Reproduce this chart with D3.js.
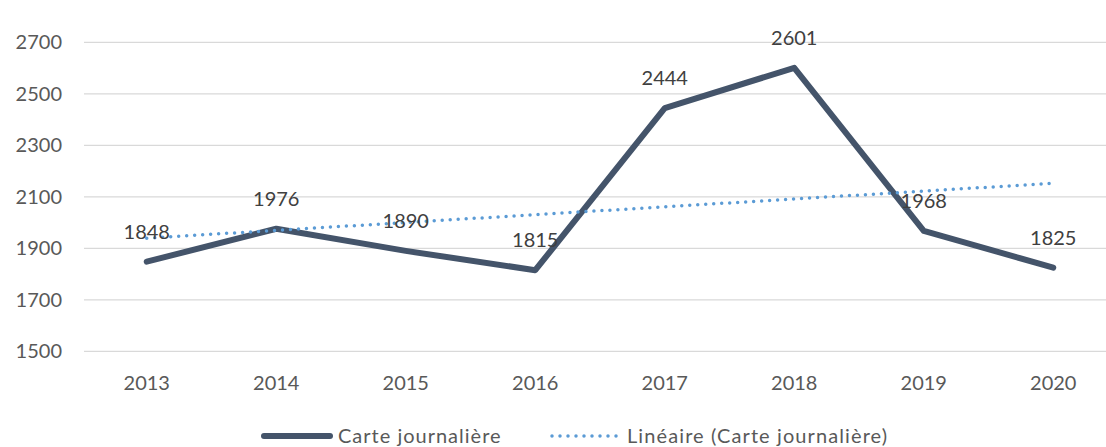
<!DOCTYPE html>
<html>
<head>
<meta charset="utf-8">
<script src="https://cdn.jsdelivr.net/npm/d3@7/dist/d3.min.js"></script>
<style>
  body { margin: 0; background: #fff; }
  svg { display: block; font-family: Lato, "Open Sans", sans-serif; }
</style>
</head>
<body>
<svg id="chart" width="1106" height="447"></svg>
<script>
// chart data
var years = ["2013", "2014", "2015", "2016", "2017", "2018", "2019", "2020"];
var carteJournaliere = [1848, 1976, 1890, 1815, 2444, 2601, 1968, 1825];
var yTicks = [1500, 1700, 1900, 2100, 2300, 2500, 2700];
var legendLabels = ["Carte journalière", "Linéaire (Carte journalière)"];

var svg = d3.select("#chart");

var x = d3.scaleBand().domain(years).range([82, 1118]);
var y = d3.scaleLinear().domain([1500, 2700]).range([351.3, 42.3]);
var cx = function (d) { return x(d) + x.bandwidth() / 2; };

// gridlines
svg.append("g")
  .selectAll("line")
  .data(yTicks)
  .join("line")
  .attr("x1", 84)
  .attr("x2", 1118)
  .attr("y1", function (d) { return y(d); })
  .attr("y2", function (d) { return y(d); })
  .attr("stroke", "#d9d9d9")
  .attr("stroke-width", 1.3);

// y axis labels
var yAxis = svg.append("g")
  .attr("transform", "translate(62,0)")
  .call(d3.axisLeft(y).tickValues(yTicks).tickSize(0).tickPadding(0).tickFormat(d3.format("d")));
yAxis.select(".domain").remove();
yAxis.selectAll("text")
  .attr("font-size", 20)
  .attr("font-family", "Lato, sans-serif")
  .attr("fill", "#595959");

// x axis labels
var xAxis = svg.append("g")
  .attr("transform", "translate(0,376)")
  .call(d3.axisBottom(x).tickSize(0).tickPadding(0));
xAxis.select(".domain").remove();
xAxis.selectAll("text")
  .attr("font-size", 20)
  .attr("font-family", "Lato, sans-serif")
  .attr("fill", "#595959");

// linear trend (least squares over the series, like Excel)
var n = carteJournaliere.length;
var mx = d3.mean(carteJournaliere, function (d, i) { return i; });
var my = d3.mean(carteJournaliere);
var sxy = d3.sum(carteJournaliere, function (d, i) { return (i - mx) * (d - my); });
var sxx = d3.sum(carteJournaliere, function (d, i) { return (i - mx) * (i - mx); });
var slope = sxy / sxx;
var trend = [0, n - 1].map(function (i) { return { year: years[i], v: my + slope * (i - mx) }; });

var line = d3.line()
  .x(function (d) { return cx(d.year); })
  .y(function (d) { return y(d.v); });

var series = years.map(function (yr, i) { return { year: yr, v: carteJournaliere[i] }; });

// main line
svg.append("path")
  .datum(series)
  .attr("d", line)
  .attr("fill", "none")
  .attr("stroke", "#44546a")
  .attr("stroke-width", 6)
  .attr("stroke-linejoin", "round")
  .attr("stroke-linecap", "round");

// trend line on top
svg.append("path")
  .datum(trend)
  .attr("d", line)
  .attr("fill", "none")
  .attr("stroke", "#5b9bd5")
  .attr("stroke-width", 3.5)
  .attr("stroke-linecap", "round")
  .attr("stroke-dasharray", "0 8");

// data labels
svg.append("g")
  .selectAll("text")
  .data(series)
  .join("text")
  .attr("x", function (d) { return cx(d.year); })
  .attr("y", function (d) { return y(d.v) - 23; })
  .attr("text-anchor", "middle")
  .attr("font-size", 20)
  .attr("fill", "#404040")
  .text(function (d) { return d.v; });

// legend
var legend = svg.append("g");
legend.append("line")
  .attr("x1", 264).attr("x2", 330)
  .attr("y1", 436).attr("y2", 436)
  .attr("stroke", "#44546a")
  .attr("stroke-width", 6)
  .attr("stroke-linecap", "round");
legend.append("text")
  .attr("x", 338).attr("y", 443)
  .attr("font-size", 20)
  .attr("letter-spacing", 1)
  .attr("fill", "#595959")
  .text(legendLabels[0]);
legend.append("line")
  .attr("x1", 552).attr("x2", 620)
  .attr("y1", 436).attr("y2", 436)
  .attr("stroke", "#5b9bd5")
  .attr("stroke-width", 3.5)
  .attr("stroke-linecap", "round")
  .attr("stroke-dasharray", "0 8");
legend.append("text")
  .attr("x", 627).attr("y", 443)
  .attr("font-size", 20)
  .attr("letter-spacing", 1.1)
  .attr("fill", "#595959")
  .text(legendLabels[1]);
</script>
</body>
</html>
